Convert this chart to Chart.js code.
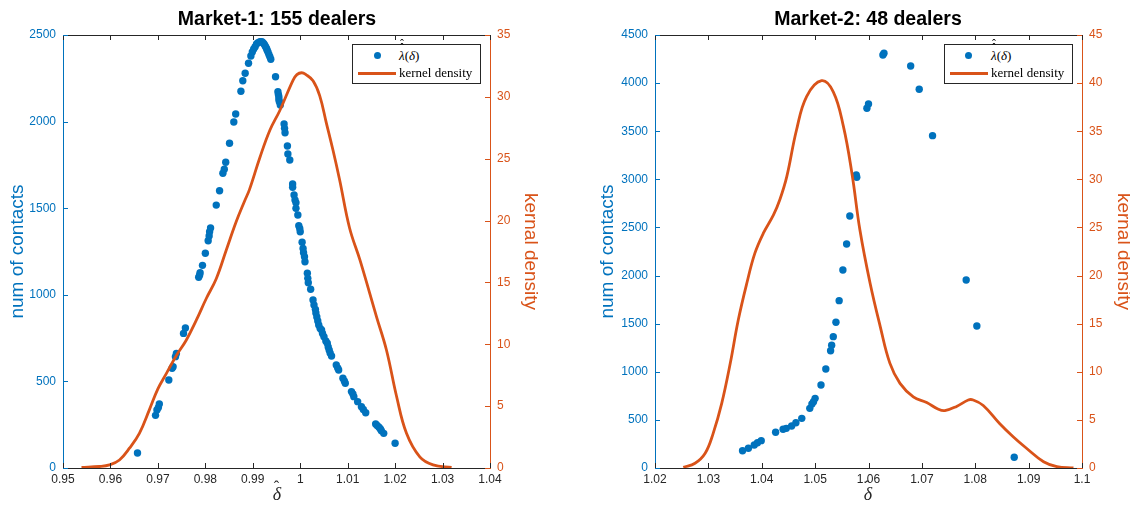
<!DOCTYPE html>
<html lang="en">
<head>
<meta charset="UTF-8">
<title>Market dealers</title>
<style>
  body { margin: 0; background: #fff; font-family: "Liberation Sans", Arial, sans-serif; }
  #wrap { position: relative; width: 1130px; height: 508px; overflow: hidden; }
  canvas { position: absolute; top: 0; }
  #c1 { left: 0; }
  #c2 { left: 565px; }
  .title { position: absolute; top: 7px; font-weight: bold; font-size: 19.5px; color: #000; text-align: center; width: 300px; white-space: nowrap; }
  .legend { position: absolute; top: 44px; width: 127px; height: 38px; border: 1px solid #262626; background: #fff;
            font-family: "Liberation Serif", "DejaVu Serif", serif; font-size: 13px; color: #000; }
  .legend .row { position: absolute; left: 0; right: 0; height: 18px; line-height: 18px; }
  .legend .dot { position: absolute; width: 7px; height: 7px; border-radius: 50%; background: #0072BD; top: 5px; }
  .legend .seg { position: absolute; height: 3px; background: #D95319; top: 8px; }
  .legend .lbl { position: absolute; white-space: nowrap; }
  .hatted { position: relative; display: inline-block; font-style: italic; }
  .hatted .h { position: absolute; left: 1px; font-style: normal; font-size: 0.9em; line-height: 1; }
  .xlab { position: absolute; top: 484px; width: 40px; text-align: center; font-family: "Liberation Serif", "DejaVu Serif", serif; font-size: 18px; color: #262626; }
</style>
</head>
<body>
<div id="wrap">
  <canvas id="c1" width="565" height="508"></canvas>
  <canvas id="c2" width="565" height="508"></canvas>
  <div class="title" style="left:127px">Market-1: 155 dealers</div>
  <div class="title" style="left:718px">Market-2: 48 dealers</div>
  <div class="xlab" style="left:257px"><span class="hatted">δ<span class="h" style="top:-5px">ˆ</span></span></div>
  <div class="xlab" style="left:848px"><span class="hatted">δ<span class="h" style="top:-5px">ˆ</span></span></div>
  <div class="legend" style="left:352px">
    <div class="row" style="top:2px"><span class="dot" style="left:21px"></span><span class="lbl" style="left:46px"><span class="hatted">λ<span class="h" style="top:-4px">ˆ</span><span class="h" style="top:-8px">ˆ</span></span>(<i>δ</i>)</span></div>
    <div class="row" style="top:19px"><span class="seg" style="left:5px;width:38px"></span><span class="lbl" style="left:46px">kernel density</span></div>
  </div>
  <div class="legend" style="left:944px">
    <div class="row" style="top:2px"><span class="dot" style="left:20px"></span><span class="lbl" style="left:46px"><span class="hatted">λ<span class="h" style="top:-4px">ˆ</span><span class="h" style="top:-8px">ˆ</span></span>(<i>δ</i>)</span></div>
    <div class="row" style="top:19px"><span class="seg" style="left:5px;width:38px"></span><span class="lbl" style="left:46px">kernel density</span></div>
  </div>
</div>

<script src="https://cdn.jsdelivr.net/npm/chart.js"></script>
<script>
// ---- Market-1 ----
const m1Delta = [
  0.9657, 0.9695, 0.9698, 0.9701, 0.9703, 0.9723, 0.9730, 0.9732, 0.9737, 0.9739,
  0.9754, 0.9758, 0.9786, 0.9788, 0.9789, 0.9794, 0.9800, 0.9806, 0.9808, 0.9809,
  0.9811, 0.9823, 0.9830, 0.9837, 0.9840, 0.9843, 0.9851, 0.9860, 0.9864, 0.9875,
  0.9879, 0.9884, 0.9891, 0.9896, 0.9899, 0.9902, 0.9905, 0.9908, 0.9911, 0.9915,
  0.9918, 0.9920, 0.9923, 0.9925, 0.9927, 0.9929, 0.9930, 0.9932, 0.9934, 0.9936,
  0.9938, 0.9948, 0.9953, 0.9954, 0.9955, 0.9955, 0.9956, 0.9958, 0.9966, 0.9967,
  0.9968, 0.9973, 0.9974, 0.9978, 0.9984, 0.9984, 0.9987, 0.9989, 0.9991, 0.9991,
  0.9995, 0.9997, 0.9999, 1.0000, 1.0004, 1.0006, 1.0007, 1.0009, 1.0010, 1.0015,
  1.0016, 1.0017, 1.0022, 1.0027, 1.0029, 1.0032, 1.0033, 1.0035, 1.0037, 1.0039,
  1.0042, 1.0045, 1.0047, 1.0050, 1.0054, 1.0057, 1.0059, 1.0061, 1.0063, 1.0066,
  1.0076, 1.0079, 1.0081, 1.0090, 1.0093, 1.0095, 1.0108, 1.0111, 1.0113, 1.0121,
  1.0129, 1.0133, 1.0138, 1.0159, 1.0162, 1.0166, 1.0169, 1.0171, 1.0176, 1.0200
];
const m1Contacts = [
    87,  304,  335,  350,  370,  508,  576,  585,  643,  661,
   777,  808, 1101, 1114, 1128, 1170, 1240, 1312, 1340, 1364,
  1386, 1518, 1601, 1702, 1725, 1765, 1875, 1998, 2044, 2175,
  2236, 2279, 2337, 2379, 2402, 2419, 2432, 2448, 2456, 2461,
  2461, 2460, 2451, 2442, 2432, 2423, 2413, 2402, 2387, 2375,
  2360, 2259, 2173, 2156, 2144, 2128, 2115, 2096, 1986, 1961,
  1936, 1859, 1813, 1778, 1640, 1621, 1576, 1547, 1532, 1499,
  1461, 1399, 1383, 1364, 1303, 1268, 1243, 1220, 1191, 1124,
  1095, 1070, 1032,  970,  941,  916,  895,  872,  849,  826,
   805,  797,  777,  758,  733,  720,  699,  681,  664,  647,
   595,  577,  566,  518,  502,  489,  441,  427,  412,  383,
   354,  338,  319,  254,  245,  235,  225,  215,  200,  143
];
const m1KdeX = [
  0.9539, 0.9577, 0.9598, 0.9619, 0.9640, 0.9661, 0.9682, 0.9700, 0.9718, 0.9739,
  0.9760, 0.9781, 0.9802, 0.9823, 0.9844, 0.9865, 0.9883, 0.9893, 0.9915, 0.9936,
  0.9957, 0.9985, 0.9993, 1.0003, 1.0012, 1.0027, 1.0041, 1.0055, 1.0069, 1.0083,
  1.0104, 1.0126, 1.0161, 1.0182, 1.0203, 1.0224, 1.0252, 1.0280, 1.0319
];
const m1KdeY = [
  0.05, 0.12, 0.25, 0.65, 1.6, 2.8, 4.7, 6.4, 7.65, 9.1,
  10.35, 11.95, 13.7, 15.3, 17.6, 19.9, 21.6, 22.5, 25.1, 27.3,
  28.9, 31.35, 31.8, 31.95, 31.8, 31.3, 30.1, 27.9, 25.7, 23.3,
  19.4, 16.8, 12.2, 9.5, 5.8, 2.8, 0.9, 0.25, 0.05
];
const m1XTicks = [0.95, 0.96, 0.97, 0.98, 0.99, 1, 1.01, 1.02, 1.03, 1.04];
const m1YTicks = [0, 500, 1000, 1500, 2000, 2500];
const m1Y2Ticks = [0, 5, 10, 15, 20, 25, 30, 35];

// ---- Market-2 ----
const m2Delta = [
  1.0364, 1.0375, 1.0386, 1.0392, 1.0399, 1.0426, 1.0440, 1.0446, 1.0456, 1.0464,
  1.0475, 1.0490, 1.0494, 1.0497, 1.0500, 1.0511, 1.0520, 1.0529, 1.0531, 1.0534,
  1.0539, 1.0545, 1.0552, 1.0559, 1.0565, 1.0577, 1.0578, 1.0597, 1.0600, 1.0627,
  1.0629, 1.0679, 1.0695, 1.0720, 1.0783, 1.0803, 1.0873
];
const m2Contacts = [
   180,  205,  239,  263,  284,  371,  402,  412,  436,  471,
   516,  620,  665,  689,  724,  863, 1029, 1219, 1275, 1365,
  1514, 1739, 2058, 2328, 2619, 3045, 3021, 3738, 3783, 4292,
  4310, 4178, 3936, 3454, 1954, 1476,  111
];
const m2KdeX = [
  1.0253, 1.0275, 1.0294, 1.0309, 1.0325, 1.0341, 1.0356, 1.0372, 1.0387, 1.0403,
  1.0422, 1.0434, 1.0447, 1.0465, 1.0484, 1.0512, 1.0534, 1.0553, 1.0569, 1.0584,
  1.0603, 1.0622, 1.0640, 1.0659, 1.0684, 1.0709, 1.0731, 1.0743, 1.0765, 1.0787,
  1.0796, 1.0815, 1.0846, 1.0871, 1.0896, 1.0928, 1.0953, 1.0984
];
const m2KdeY = [
  0.07, 0.49, 1.53, 3.6, 6.72, 10.88, 15.38, 19.2, 22.3, 24.4,
  26.3, 27.9, 30.3, 35.1, 38.6, 40.25, 39.1, 35.5, 30.6, 24.7,
  19.2, 14.7, 10.9, 8.8, 7.4, 6.8, 6.1, 5.96, 6.4, 7.07,
  7.07, 6.5, 4.6, 3.25, 2.05, 0.65, 0.14, 0.0
];
const m2XTicks = [1.02, 1.03, 1.04, 1.05, 1.06, 1.07, 1.08, 1.09, 1.1];
const m2YTicks = [0, 500, 1000, 1500, 2000, 2500, 3000, 3500, 4000, 4500];
const m2Y2Ticks = [0, 5, 10, 15, 20, 25, 30, 35, 40, 45];

const BLUE = '#0072BD';
const ORANGE = '#D95319';
const DARK = '#262626';

function pts(xs, ys) { return xs.map((x, i) => ({ x: x, y: ys[i] })); }
function fixTicks(arr) { return s => { s.ticks = arr.map(v => ({ value: v })); }; }
function fmt(v) { return String(+Number(v).toFixed(4)); }

// MATLAB-style inward ticks and top box line
const inwardTicks = {
  id: 'inwardTicks',
  afterDraw(chart) {
    const ctx = chart.ctx;
    const a = chart.chartArea;
    const L = 5;
    ctx.save();
    ctx.lineWidth = 1;
    ctx.strokeStyle = DARK;
    ctx.beginPath();
    ctx.moveTo(a.left, a.top + 0.5);
    ctx.lineTo(a.right, a.top + 0.5);
    chart.scales.x.ticks.forEach(t => {
      const p = Math.round(chart.scales.x.getPixelForValue(t.value)) + 0.5;
      ctx.moveTo(p, a.bottom); ctx.lineTo(p, a.bottom - L);
      ctx.moveTo(p, a.top); ctx.lineTo(p, a.top + L);
    });
    ctx.stroke();
    ctx.strokeStyle = BLUE;
    ctx.beginPath();
    chart.scales.y.ticks.forEach(t => {
      const p = Math.round(chart.scales.y.getPixelForValue(t.value)) + 0.5;
      ctx.moveTo(a.left, p); ctx.lineTo(a.left + L, p);
    });
    ctx.stroke();
    ctx.strokeStyle = ORANGE;
    ctx.beginPath();
    chart.scales.y2.ticks.forEach(t => {
      const p = Math.round(chart.scales.y2.getPixelForValue(t.value)) + 0.5;
      ctx.moveTo(a.right, p); ctx.lineTo(a.right - L, p);
    });
    ctx.stroke();
    ctx.restore();
  }
};

function makeChart(id, o) {
  return new Chart(document.getElementById(id), {
    type: 'scatter',
    data: {
      datasets: [
        {
          type: 'line',
          label: 'kernel density',
          data: pts(o.kx, o.ky),
          yAxisID: 'y2',
          borderColor: ORANGE,
          borderWidth: 2.8,
          pointRadius: 0,
          tension: 0.4,
          fill: false
        },
        {
          label: 'lambda',
          data: pts(o.dx, o.dy),
          yAxisID: 'y',
          backgroundColor: BLUE,
          borderColor: BLUE,
          pointRadius: 3.7,
          pointBorderWidth: 0
        }
      ]
    },
    options: {
      responsive: false,
      animation: false,
      layout: { padding: { top: 35, left: 0, right: 0, bottom: 0 } },
      plugins: { legend: { display: false }, title: { display: false }, tooltip: { enabled: false } },
      scales: {
        x: {
          type: 'linear', min: o.xMin, max: o.xMax,
          afterBuildTicks: fixTicks(o.xTicks),
          afterFit: s => { s.height = 40; },
          grid: { display: false, drawTicks: false },
          border: { display: true, color: DARK, width: 1 },
          ticks: { color: DARK, font: { family: 'Liberation Sans', size: 12 }, padding: 4, callback: v => fmt(v), maxRotation: 0, autoSkip: false },
          title: { display: false }
        },
        y: {
          type: 'linear', position: 'left', min: 0, max: o.yMax,
          afterBuildTicks: fixTicks(o.yTicks),
          afterFit: s => { s.width = o.yW; },
          grid: { display: false, drawTicks: false },
          border: { display: true, color: BLUE, width: 1 },
          ticks: { color: BLUE, font: { family: 'Liberation Sans', size: 12 }, padding: 7, callback: v => fmt(v) },
          title: { display: true, text: 'num of contacts', color: BLUE, font: { family: 'Liberation Sans', size: 19 }, padding: { top: o.yTitlePad, bottom: 0 } }
        },
        y2: {
          type: 'linear', position: 'right', min: 0, max: o.y2Max,
          afterBuildTicks: fixTicks(o.y2Ticks),
          afterFit: s => { s.width = o.y2W; },
          grid: { display: false, drawTicks: false },
          border: { display: true, color: ORANGE, width: 1 },
          ticks: { color: ORANGE, font: { family: 'Liberation Sans', size: 12 }, padding: 7, callback: v => fmt(v) },
          title: { display: true, text: 'kernal density', color: ORANGE, font: { family: 'Liberation Sans', size: 19, lineHeight: o.y2LH }, padding: { top: o.y2TitlePad, bottom: 0 } }
        }
      }
    },
    plugins: [inwardTicks]
  });
}

makeChart('c1', {
  dx: m1Delta, dy: m1Contacts, kx: m1KdeX, ky: m1KdeY,
  xMin: 0.95, xMax: 1.04, yMax: 2500, y2Max: 35,
  xTicks: m1XTicks, yTicks: m1YTicks, y2Ticks: m1Y2Ticks,
  yW: 63, y2W: 75, yTitlePad: 6.5, y2TitlePad: 23.5, y2LH: 1.2
});

makeChart('c2', {
  dx: m2Delta, dy: m2Contacts, kx: m2KdeX, ky: m2KdeY,
  xMin: 1.02, xMax: 1.1, yMax: 4500, y2Max: 45,
  xTicks: m2XTicks, yTicks: m2YTicks, y2Ticks: m2Y2Ticks,
  yW: 90, y2W: 48, yTitlePad: 31.5, y2TitlePad: 0, y2LH: 0.74
});
</script>
</body>
</html>
